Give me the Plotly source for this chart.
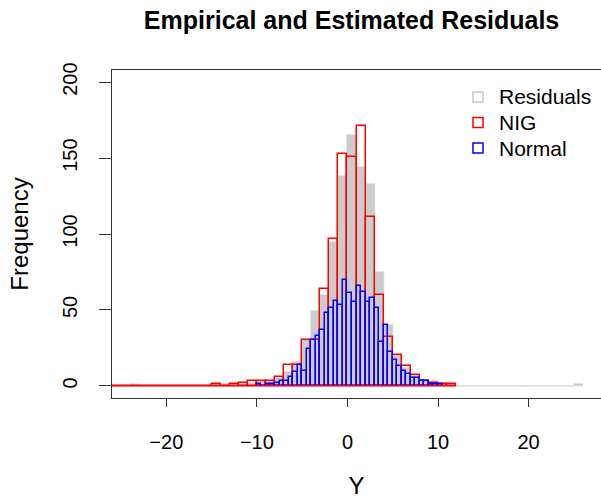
import plotly.graph_objects as go

# ---- data ----
# Residuals (empirical), bins of width 1, left edges -26 .. 25
resid_edges = list(range(-26, 27))
resid_counts = [0, 0, 1, 0, 0, 0, 0, 0, 0, 0, 0, 0, 1, 0, 1, 2, 3, 4, 5, 9,
                16, 30, 49, 60, 95, 138, 165, 144, 133, 75, 40, 20, 12, 7, 4, 3,
                1, 1, 0, 0, 0, 0, 0, 0, 0, 0, 0, 0, 0, 0, 0, 1]

# NIG estimated, bins of width 1, left edges -26 .. 11
nig_edges = list(range(-26, 13))
nig_counts = [0, 0, 0, 0, 0, 0, 0, 0, 0, 0, 0, 1, 0, 1, 2, 3, 3, 3, 6, 14,
              14, 30, 30, 64, 97, 153, 151, 171, 111, 60, 32, 20, 13, 7, 3, 2,
              1, 1]

# Normal estimated, bins of width 0.5, left edges -10 .. 10
norm_edges = [x / 2 for x in range(-20, 22)]
norm_counts = [1, 0, 1, 1, 2, 3, 3, 6, 9, 14, 10, 24, 30, 33, 37, 48, 51, 56,
               53, 70, 61, 55, 66, 62, 55, 58, 51, 29, 40, 22, 17, 13, 10, 8, 5,
               5, 3, 3, 1, 1, 1]

x_ticks = [-20, -10, 0, 10, 20]
y_ticks = [0, 50, 100, 150, 200]

legend_names = ["Residuals", "NIG", "Normal"]
legend_colors = ["#C8C8C8", "red", "blue"]

GRAY = "#CCCCCC"
FONT = "Liberation Sans, Arial, Helvetica, sans-serif"

W, H = 601, 499
ML, MR, MT, MB = 112, 0, 70, 101
PW, PH = W - ML - MR, H - MT - MB


def centers(edges):
    return [(a + b) / 2 for a, b in zip(edges[:-1], edges[1:])]


def widths(edges):
    return [b - a for a, b in zip(edges[:-1], edges[1:])]


def px_to_paper(px, py):
    return (px - ML) / PW, (H - MB - py) / PH


fig = go.Figure()

# baselines (R draws zero-count bins as a flat line)
fig.add_trace(go.Scatter(x=[resid_edges[0], resid_edges[-1]], y=[0, 0], mode="lines",
                         line=dict(color="#DDDDDD", width=1.5), showlegend=False,
                         hoverinfo="skip"))

fig.add_trace(go.Bar(x=centers(resid_edges), y=resid_counts, width=widths(resid_edges),
                     marker=dict(color=GRAY, line=dict(color=GRAY, width=0.5)),
                     showlegend=False, name="Residuals"))

fig.add_trace(go.Scatter(x=[nig_edges[0], nig_edges[-1]], y=[0, 0], mode="lines",
                         line=dict(color="red", width=1.5), showlegend=False,
                         hoverinfo="skip"))
fig.add_trace(go.Bar(x=centers(nig_edges), y=nig_counts, width=widths(nig_edges),
                     marker=dict(color="rgba(0,0,0,0)", line=dict(color="red", width=1.5)),
                     showlegend=False, name="NIG"))

fig.add_trace(go.Bar(x=centers(norm_edges), y=norm_counts, width=widths(norm_edges),
                     marker=dict(color="rgba(0,0,0,0)", line=dict(color="blue", width=1.5)),
                     showlegend=False, name="Normal"))

# manual legend (R style: outlined squares + labels)
shapes, annotations = [], []
for i, (nm, col) in enumerate(zip(legend_names, legend_colors)):
    cy = 97 + i * 25.5
    x0, y0 = px_to_paper(473, cy + 5)
    x1, y1 = px_to_paper(483, cy - 5)
    shapes.append(dict(type="rect", xref="paper", yref="paper", x0=x0, x1=x1, y0=y0, y1=y1,
                       line=dict(color=col, width=1.5), fillcolor="rgba(0,0,0,0)"))
    tx, ty = px_to_paper(497, cy)
    annotations.append(dict(text=nm, xref="paper", yref="paper", x=tx, y=ty,
                            xanchor="left", yanchor="middle", showarrow=False,
                            font=dict(size=21, family=FONT, color="black")))

fig.update_layout(
    width=W, height=H,
    margin=dict(l=ML, r=MR, t=MT, b=MB),
    paper_bgcolor="white", plot_bgcolor="white",
    barmode="overlay", bargap=0,
    font=dict(family=FONT, size=20, color="black"),
    title=dict(text="<b>Empirical and Estimated Residuals</b>", x=0.585, xref="container",
               xanchor="center", y=0.96, yref="container", yanchor="middle",
               font=dict(size=25, family=FONT, color="black")),
    showlegend=False,
    shapes=shapes,
    annotations=annotations,
)

fig.update_xaxes(range=[-26, 28], tickvals=x_ticks, ticks="outside", ticklen=8,
                 tickcolor="#333", showline=True, linecolor="#333", linewidth=1.2,
                 mirror=True, showgrid=False, zeroline=False, automargin=False,
                 title=dict(text="Y", standoff=30), tickfont=dict(size=20),
                 ticklabelstandoff=18)
fig.update_yaxes(range=[-8, 208], tickvals=y_ticks, ticks="outside", ticklen=12,
                 tickcolor="#333", showline=True, linecolor="#333", linewidth=1.2,
                 mirror=False, showgrid=False, zeroline=False, tickangle=-90,
                 automargin=False,
                 title=dict(text="Frequency", standoff=23), tickfont=dict(size=20),
                 ticklabelstandoff=14)

fig.write_html("out.html",
               config={"displayModeBar": False},
               post_script="document.body.style.margin='0px';"
                           "document.body.style.overflow='hidden';")
